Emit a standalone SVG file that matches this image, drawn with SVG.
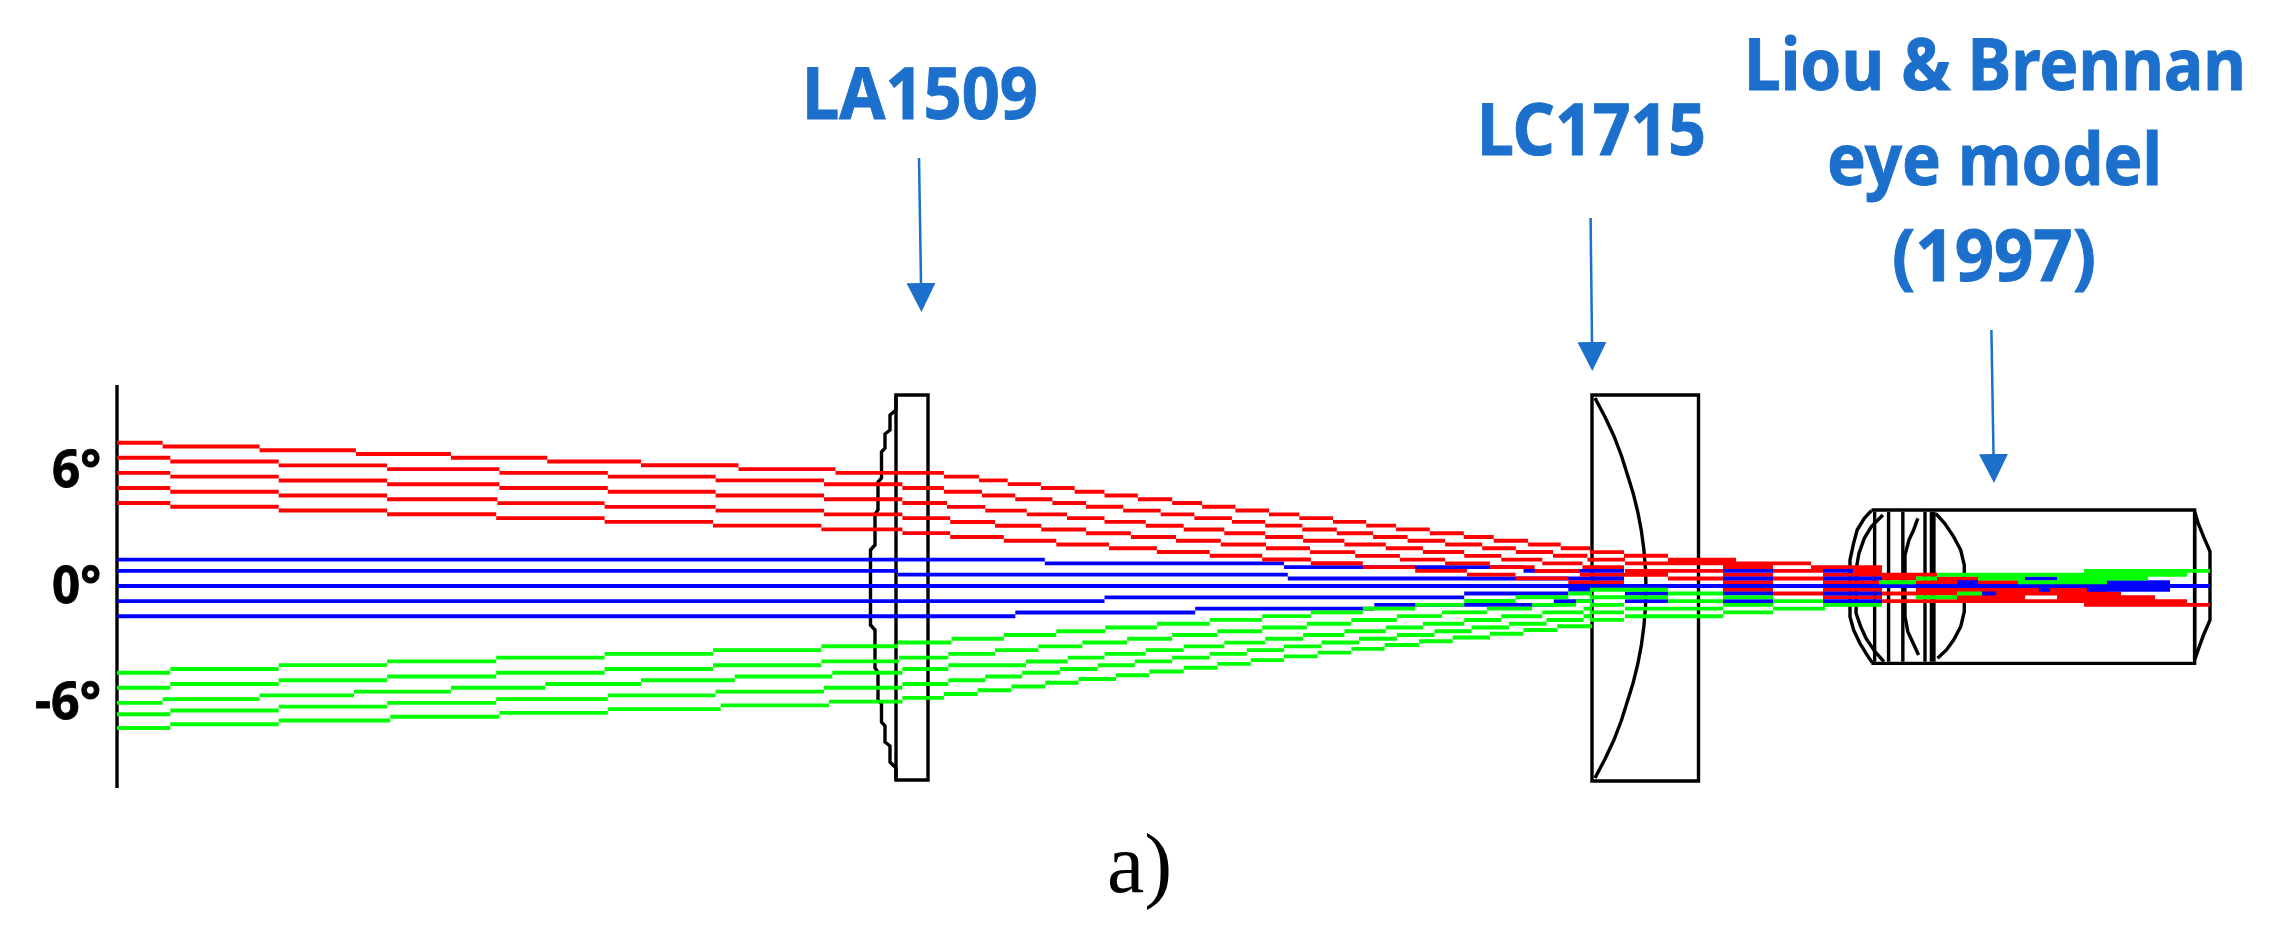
<svg xmlns="http://www.w3.org/2000/svg" width="2288" height="942" viewBox="0 0 2288 942">
<style>
.o{fill:none;stroke:#000;stroke-width:3.4}
.r{fill:none;stroke-width:3.9}
.red{stroke:#ff0000}.blue{stroke:#0000ff}.green{stroke:#00ff00}
.l{font-family:"Noto Sans","Open Sans",sans-serif;font-weight:700;fill:#1c70cc;stroke:#1c70cc;stroke-width:1;font-size:72px}
.d{font-family:"Noto Sans","Open Sans",sans-serif;font-weight:700;fill:#000;stroke:#000;stroke-width:.8;font-size:52px}
.a{fill:none;stroke:#1c70cc;stroke-width:2.5;marker-end:url(#h)}
</style>
<defs><marker id="h" viewBox="0 0 29 29" refX="0" refY="14.5" markerWidth="29" markerHeight="29" markerUnits="userSpaceOnUse" orient="auto"><path d="M0 0L29 14.5L0 29Z" fill="#1c70cc"/></marker></defs>
<rect width="2288" height="942" fill="#fff"/>
<g id="object-plane"><path class="o" d="M117 385V788"/></g>
<g id="lens-LA1509"><path class="o" d="M896 395H928V780H896Z"/><path class="o" d="M896 395V410L890 415V430L885 434V448L881.500 452V478L878 482V510L875 514V545L870.500 550V625L875 630V668L878 672V700L881.500 704V722L885 726V742L890 746V762L896 768V780"/></g>
<g id="lens-LC1715"><path class="o" d="M1592 395H1698.500V781H1592Z"/><path class="o" d="M1595 398L1605 417L1613.900 436L1621.200 455L1627.200 474L1633.100 493L1637.800 512L1641.400 531L1643.900 550L1645.500 569L1646 588L1645.500 607L1643.900 626L1641.400 645L1637.800 664L1633.100 683L1627.200 702L1621.200 721L1613.900 740L1605 759L1595 778"/></g>
<g id="eye-model" transform="translate(1700 480) scale(.35714 .33333)">
<path class="o" vector-effect="non-scaling-stroke" d="M480 90H1385V550H480"/>
<path class="o" vector-effect="non-scaling-stroke" d="M480 92L460 115L440 150L430 190L420 240V410L430 450L448 490L465 520L482 548"/>
<path class="o" vector-effect="non-scaling-stroke" d="M512 105L480 140L460 175L445 220L437 270V400L450 440L465 475L490 515L515 545"/>
<path class="o" vector-effect="non-scaling-stroke" d="M489 95V545M528 95V545M568 95V545M630 95V545M655 95V545M648 95V545"/>
<path class="o" vector-effect="non-scaling-stroke" d="M610 115L598 150L585 180L574 225V410L582 455L595 485L612 525"/>
<path class="o" vector-effect="non-scaling-stroke" d="M660 100L685 130L710 170L730 210L740 255V395L730 440L710 480L690 510L665 535"/>
<path class="o" vector-effect="non-scaling-stroke" d="M1385 95V540M1385 95L1395 130L1410 170L1428 215V420L1410 465L1398 500L1385 540"/>
</g>
<g id="rays">
<g id="rays-0deg" class="r blue">
<path d="M117 559.600H1044.800m0 3.770H1284m0 3.770H1523.500m0 3.770H1593"/>
<path d="M117 570.900H898m0 3.770H1287.800m0 3.770H1593"/>
<path d="M117 586H2210"/>
<path d="M117 601.100H1104.500m0 -3.770H1464.200m0 -3.770H1568.300m0 -3.770H1593"/>
<path d="M117 616.200H1015.300m0 -3.770H1195.200m0 -3.770H1374.300m0 -3.770H1553.800m0 -3.770H1593"/>
</g>
<g id="rays-minus6deg" class="r green">
<path d="M117 672.700H170.300m0 -3.770H278.700m0 -3.770H387.100m0 -3.770H496.200m0 -3.770H604.600m0 -3.770H713m0 -3.770H821.400m0 -3.770H898m0 -3.770H951.500m0 -3.770H1003.800m0 -3.770H1056.300m0 -3.770H1105.200m0 -3.770H1156.900m0 -3.770H1209.700m0 -3.770H1262.200m0 -3.770H1310.800m0 -3.770H1362.800m0 -3.770H1415.200m0 -3.770H1464.200m0 -3.770H1515.500m0 -3.770H1568.300m0 -3.770H1592"/>
<path d="M117 687.800H170.300m0 -3.770H278.700m0 -3.770H387.100m0 -3.770H496.200m0 -3.770H604.600m0 -3.770H713m0 -3.770H821.400m0 -3.770H899m0 -3.770H948.300m0 -3.770H995m0 -3.770H1038.300m0 -3.770H1082.300m0 -3.770H1127.100m0 -3.770H1172.200m0 -3.770H1217.400m0 -3.770H1262.200m0 -3.770H1306.900m0 -3.770H1351.300m0 -3.770H1396.900m0 -3.770H1442m0 -3.770H1486.800m0 -3.770H1532m0 -3.770H1576m0 -3.770H1592"/>
<path d="M117 702.900H162.600m0 -3.770H259.600m0 -3.770H354m0 -3.770H450.900m0 -3.770H545.300m0 -3.770H641m0 -3.770H734.700m0 -3.770H832.300m0 -3.770H902.400m0 -3.770H948.300m0 -3.770H1026m0 -3.770H1067.700m0 -3.770H1104.500m0 -3.770H1145.800m0 -3.770H1183.700m0 -3.770H1224.300m0 -3.770H1265.200m0 -3.770H1303.100m0 -3.770H1344.400m0 -3.770H1385.800m0 -3.770H1422.900m0 -3.770H1464.200m0 -3.770H1501.300m0 -3.770H1542.300m0 -3.770H1583.600m0 -3.770H1592"/>
<path d="M117 714.200H170.300m0 -3.770H278.700m0 -3.770H387.100m0 -3.770H496.200m0 -3.770H607.800m0 -3.770H715.600m0 -3.770H824m0 -3.770H902.400m0 -3.770H948.300m0 -3.770H985.300m0 -3.770H1022.200m0 -3.770H1060.100m0 -3.770H1097.600m0 -3.770H1134.700m0 -3.770H1172.200m0 -3.770H1209.700m0 -3.770H1246.800m0 -3.770H1284m0 -3.770H1321.500m0 -3.770H1359m0 -3.770H1396.900m0 -3.770H1434.400m0 -3.770H1471.500m0 -3.770H1509m0 -3.770H1546.500m0 -3.770H1583.600m0 -3.770H1592"/>
<path d="M117 728H170.300m0 -3.770H278.700m0 -3.770H390.300m0 -3.770H499.400m0 -3.770H607.800m0 -3.770H720.700m0 -3.770H829m0 -3.770H902.400m0 -3.770H943.900m0 -3.770H977.700m0 -3.770H1011.500m0 -3.770H1045.200m0 -3.770H1078.500m0 -3.770H1116m0 -3.770H1149.300m0 -3.770H1183.700m0 -3.770H1217.400m0 -3.770H1250.700m0 -3.770H1284m0 -3.770H1317.600m0 -3.770H1351.300m0 -3.770H1384.600m0 -3.770H1419.100m0 -3.770H1452.700m0 -3.770H1489.900m0 -3.770H1523.500m0 -3.770H1557.200m0 -3.770H1592"/>
</g>
<g id="rays-plus6deg" class="r red">
<path d="M117 442.700H162.600m0 3.770H259.600m0 3.770H355.900m0 3.770H450.900m0 3.770H547.200m0 3.770H641m0 3.770H738.500m0 3.770H835.500m0 3.770H943.900m0 3.770H979m0 3.770H1007.700m0 3.770H1040.900m0 3.770H1074.600m0 3.770H1104.500m0 3.770H1137.800m0 3.770H1172.200m0 3.770H1202.100m0 3.770H1235.400m0 3.770H1269m0 3.770H1299.300m0 3.770H1333m0 3.770H1366.200m0 3.770H1396.100m0 3.770H1429.800m0 3.770H1463.800m0 3.770H1493.700m0 3.770H1528.100m0 3.770H1560.700m0 3.770H1590"/>
<path d="M117 457.800H170.300m0 3.770H278.700m0 3.770H387.100m0 3.770H499.400m0 3.770H607.800m0 3.770H715.600m0 3.770H824m0 3.770H902.400m0 3.770H943.900m0 3.770H982m0 3.770H1015.300m0 3.770H1052.400m0 3.770H1086.100m0 3.770H1123.200m0 3.770H1160.700m0 3.770H1194.400m0 3.770H1231.900m0 3.770H1265.200m0 3.770H1302.300m0 3.770H1336.800m0 3.770H1373.100m0 3.770H1407.600m0 3.770H1445.100m0 3.770H1482.200m0 3.770H1515.900m0 3.770H1553m0 3.770H1587.400m0 3.770H1592"/>
<path d="M117 472.900H170.300m0 3.770H278.700m0 3.770H387.100m0 3.770H499.400m0 3.770H607.800m0 3.770H715.600m0 3.770H824m0 3.770H902.400m0 3.770H947m0 3.770H985.300m0 3.770H1026.800m0 3.770H1067m0 3.770H1104.500m0 3.770H1145.800m0 3.770H1183.700m0 3.770H1224.300m0 3.770H1265.200m0 3.770H1303.100m0 3.770H1344.400m0 3.770H1385.800m0 3.770H1422.900m0 3.770H1464.200m0 3.770H1501.300m0 3.770H1542.300m0 3.770H1582.500m0 3.770H1592"/>
<path d="M117 488H170.300m0 3.770H278.700m0 3.770H387.100m0 3.770H497.400m0 3.770H604.600m0 3.770H715.600m0 3.770H824m0 3.770H902.400m0 3.770H950.200m0 3.770H995m0 3.770H1041.300m0 3.770H1086.100m0 3.770H1130.900m0 3.770H1176m0 3.770H1220.800m0 3.770H1266m0 3.770H1310m0 3.770H1355.100m0 3.770H1399.900m0 3.770H1445.100m0 3.770H1489.900m0 3.770H1534.600m0 3.770H1579.800m0 3.770H1592"/>
<path d="M117 503H170.300m0 3.770H278.700m0 3.770H387.100m0 3.770H496.200m0 3.770H604.600m0 3.770H713m0 3.770H821.400m0 3.770H902.400m0 3.770H950.200m0 3.770H1003.800m0 3.770H1056.300m0 3.770H1109m0 3.770H1156.900m0 3.770H1209.700m0 3.770H1262.200m0 3.770H1310.800m0 3.770H1362.800m0 3.770H1415.200m0 3.770H1466.900m0 3.770H1515.500m0 3.770H1568.300m0 3.770H1592"/>
</g>
<g id="rays-converging">
<path class="r red" d="M1590 552.100H1624M1624 555.800H1668M1590 559.600H1625M1668 559.600H1736M1625 563.400H1811M1590 567.200H1624M1723 567.200H1773M1811 567.200H1882M1625 570.900H1723M1773 570.900H1823M1853 570.900H1882M1590 574.700H1668M1723 574.700H1773M1823 574.700H1937M1668 578.500H1723M1773 578.500H1823M1882 578.500H1916M1937 578.500H1978M1590 582.200H1624M1723 582.200H1773M1823 582.200H1882M1916 582.200H2018M1723 589.800H1773M1823 589.800H1882M1916 589.800H2107M1773 593.500H1823M1882 593.500H2121M1823 597.300H1882M1957 597.300H2025M2057 597.300H2155M1882 601.100H2187M2084 604.900H2210"/>
<path class="r blue" d="M1590 570.900H1624M1723 570.900H1773M1823 570.900H1853M1590 578.500H1624M1723 578.500H1773M1823 578.500H1882M2025 578.500H2057M1957 582.200H1978M2107 582.200H2170M1590 586H2210M2039 589.800H2050M2087 589.800H2170M1625 593.500H1668M1723 593.500H1773M1823 593.500H1882M1982 593.500H1996M1625 601.100H1668M1723 601.100H1773M1823 601.100H1882"/>
<path class="r green" d="M2084 570.900H2210M1937 574.700H2187M1916 578.500H1937M1978 578.500H2025M2057 578.500H2148M1879 582.200H1916M2018 582.200H2107M1590 589.800H1668M1668 593.500H1723M1957 593.500H1982M1590 597.300H1668M1723 597.300H1773M1916 597.300H1957M1668 601.100H1723M1773 601.100H1823M1590 604.900H1624M1723 604.900H1773M1823 604.900H1882M1625 608.600H1723M1773 608.600H1825M1590 612.400H1624M1723 612.400H1773M1625 616.200H1723M1590 619.900H1624"/>
</g>
</g>
<g id="connectors">
<path class="a" d="M919 158L921 283"/>
<path class="a" d="M1590.600 218L1592 342"/>
<path class="a" d="M1991.400 330L1993.500 454"/>
</g>
<g id="label-LA1509"><text class="l" x="802" y="119" textLength="236" lengthAdjust="spacingAndGlyphs">LA1509</text></g>
<g id="label-LC1715"><text class="l" x="1477" y="155" textLength="229" lengthAdjust="spacingAndGlyphs">LC1715</text></g>
<g id="label-eye">
<text class="l" x="1744" y="90" textLength="502" lengthAdjust="spacingAndGlyphs">Liou &amp; Brennan</text>
<text class="l" x="1827" y="185" textLength="335" lengthAdjust="spacingAndGlyphs">eye model</text>
<text class="l" x="1892" y="281" textLength="204" lengthAdjust="spacingAndGlyphs">(1997)</text>
</g>
<g id="angle-labels">
<text class="d" x="52" y="487" textLength="49" lengthAdjust="spacingAndGlyphs">6°</text>
<text class="d" x="52" y="603" textLength="49" lengthAdjust="spacingAndGlyphs">0°</text>
<text class="d" x="35" y="719" textLength="66" lengthAdjust="spacingAndGlyphs">-6°</text>
</g>
<text x="1107" y="892" font-family="Liberation Serif,serif" font-size="84" fill="#000">a)</text>
</svg>
